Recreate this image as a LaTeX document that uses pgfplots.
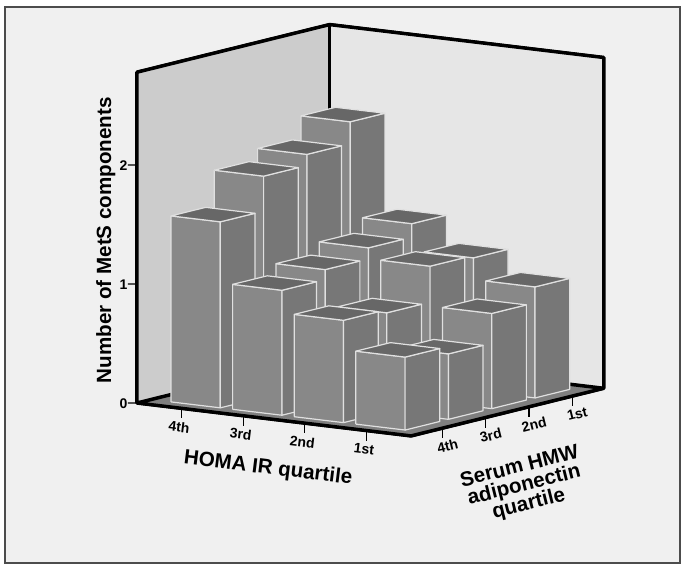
\documentclass[border=0pt]{standalone}
\usepackage{fontspec}
\setmainfont{Liberation Sans}
\usepackage{pgfplots}
\pgfplotsset{compat=1.18}

\definecolor{panel}{HTML}{F0F0F0}
\definecolor{leftwall}{HTML}{CCCCCC}
\definecolor{backwall}{HTML}{E6E6E6}
\definecolor{floorc}{HTML}{7F7F7F}
\definecolor{barfront}{HTML}{888888}
\definecolor{barside}{HTML}{777777}
\definecolor{bartop}{HTML}{676767}
\definecolor{baredge}{HTML}{E0E0E0}

% one bar: column, row, height
\newcommand{\tbar}[3]{%
  \pgfmathsetmacro{\xa}{#1-0.4}\pgfmathsetmacro{\xb}{#1+0.4}%
  \pgfmathsetmacro{\ya}{#2-0.4}\pgfmathsetmacro{\yb}{#2+0.4}%
  \addplot3 [fill=barfront, barstyle] coordinates {(\xa,\ya,0) (\xb,\ya,0) (\xb,\ya,#3) (\xa,\ya,#3) (\xa,\ya,0)};
  \addplot3 [fill=barside, barstyle] coordinates {(\xb,\ya,0) (\xb,\yb,0) (\xb,\yb,#3) (\xb,\ya,#3) (\xb,\ya,0)};
  \addplot3 [fill=bartop, barstyle] coordinates {(\xa,\ya,#3) (\xb,\ya,#3) (\xb,\yb,#3) (\xa,\yb,#3) (\xa,\ya,#3)};
}

\begin{document}
\begin{tikzpicture}[x=1pt,y=1pt]
  \fill[white] (0,0) rectangle (685,571);
  \draw[fill=panel, draw=black!70, line width=1.2pt] (5,8) rectangle (680,564);
  \begin{axis}[
    at={(213pt,170.4pt)}, anchor=origin,
    clip=false,
    x={(61.6pt,-7.4pt)}, y={(43.3pt,10.7pt)}, z={(0pt,119pt)},
    xmin=-0.725, xmax=3.725, ymin=-0.725, ymax=3.725, zmin=0, zmax=2.78,
    barstyle/.style={draw=baredge, line width=1.2pt, line join=round},
    edge/.style={black, line width=3.5pt, line join=round},
    tk/.style={black, line width=1.2pt},
    axis line style={black, line width=3pt},
    tick style={draw=none},
    major tick length=0pt,
    xtick={0,1,2,3}, xticklabels={4th,3rd,2nd,1st},
    ytick={0,1,2,3}, yticklabels={4th,3rd,2nd,1st},
    ztick={0,1,2},
    x tick label style={font=\fontsize{14}{16}\selectfont\bfseries, rotate=-7, xshift=5pt, yshift=-10pt},
    y tick label style={font=\fontsize{14}{16}\selectfont\bfseries, rotate=14, xshift=-4pt, yshift=-10pt},
    z tick label style={font=\fontsize{14}{16}\selectfont\bfseries, xshift=-6pt},
    /pgf/number format/assume math mode=true,
    xlabel={HOMA IR quartile},
    ylabel={Serum HMW\\[-2pt]adiponectin\\[-2pt]quartile},
    zlabel={Number of MetS components},
    xlabel style={at={(axis cs:1.403,-0.725,-0.42)}, anchor=center, rotate=-7, sloped=false, font=\fontsize{20.6}{21}\selectfont\bfseries},
    ylabel style={at={(axis cs:3.725,1.89,-0.655)}, anchor=center, rotate=14, align=center, sloped=false, font=\fontsize{20.6}{21}\selectfont\bfseries},
    zlabel style={at={(axis cs:-1.23,-0.725,1.337)}, anchor=center, sloped=false, font=\fontsize{20.6}{21}\selectfont\bfseries},
  ]
    % walls and floor
    \addplot3 [fill=leftwall, draw=none] coordinates {(-0.725,-0.725,0) (-0.725,3.725,0) (-0.725,3.725,2.78) (-0.725,-0.725,2.78) (-0.725,-0.725,0)};
    \addplot3 [fill=backwall, draw=none] coordinates {(-0.725,3.725,0) (3.725,3.725,0) (3.725,3.725,2.78) (-0.725,3.725,2.78) (-0.725,3.725,0)};
    \addplot3 [fill=floorc, draw=none] coordinates {(-0.725,-0.725,0) (3.725,-0.725,0) (3.725,3.725,0) (-0.725,3.725,0) (-0.725,-0.725,0)};
    % wall and floor edges, the walls cover half of the axis lines
    \addplot3 [edge] coordinates {(-0.725,-0.725,0) (-0.725,-0.725,2.78) (-0.725,3.725,2.78) (3.725,3.725,2.78) (3.725,3.725,0) (3.725,-0.725,0) (-0.725,-0.725,0) (-0.725,3.725,0) (3.725,3.725,0)};
    \addplot3 [edge] coordinates {(-0.725,3.725,0) (-0.725,3.725,2.78)};
    % ticks
    \pgfplotsinvokeforeach{0,1,2,3}{
      \addplot3 [tk] coordinates {(#1,-0.725,0) (#1,-0.725,-0.085)};
      \addplot3 [tk] coordinates {(3.725,#1,0) (3.725,#1,-0.085)};
    }
    \pgfplotsinvokeforeach{0,1,2}{
      \addplot3 [tk] coordinates {(-0.725,-0.725,#1) (-0.823,-0.793,#1)};
    }
    % back row first
    \tbar{0}{3}{2.134}\tbar{1}{3}{1.340}\tbar{2}{3}{1.115}\tbar{3}{3}{0.933}
    \tbar{0}{2}{1.950}\tbar{1}{2}{1.227}\tbar{2}{2}{1.135}\tbar{3}{2}{0.800}
    \tbar{0}{1}{1.857}\tbar{1}{1}{1.134}\tbar{2}{1}{0.833}\tbar{3}{1}{0.550}
    \tbar{0}{0}{1.563}\tbar{1}{0}{1.050}\tbar{2}{0}{0.860}\tbar{3}{0}{0.613}
  \end{axis}
\end{tikzpicture}
\end{document}
